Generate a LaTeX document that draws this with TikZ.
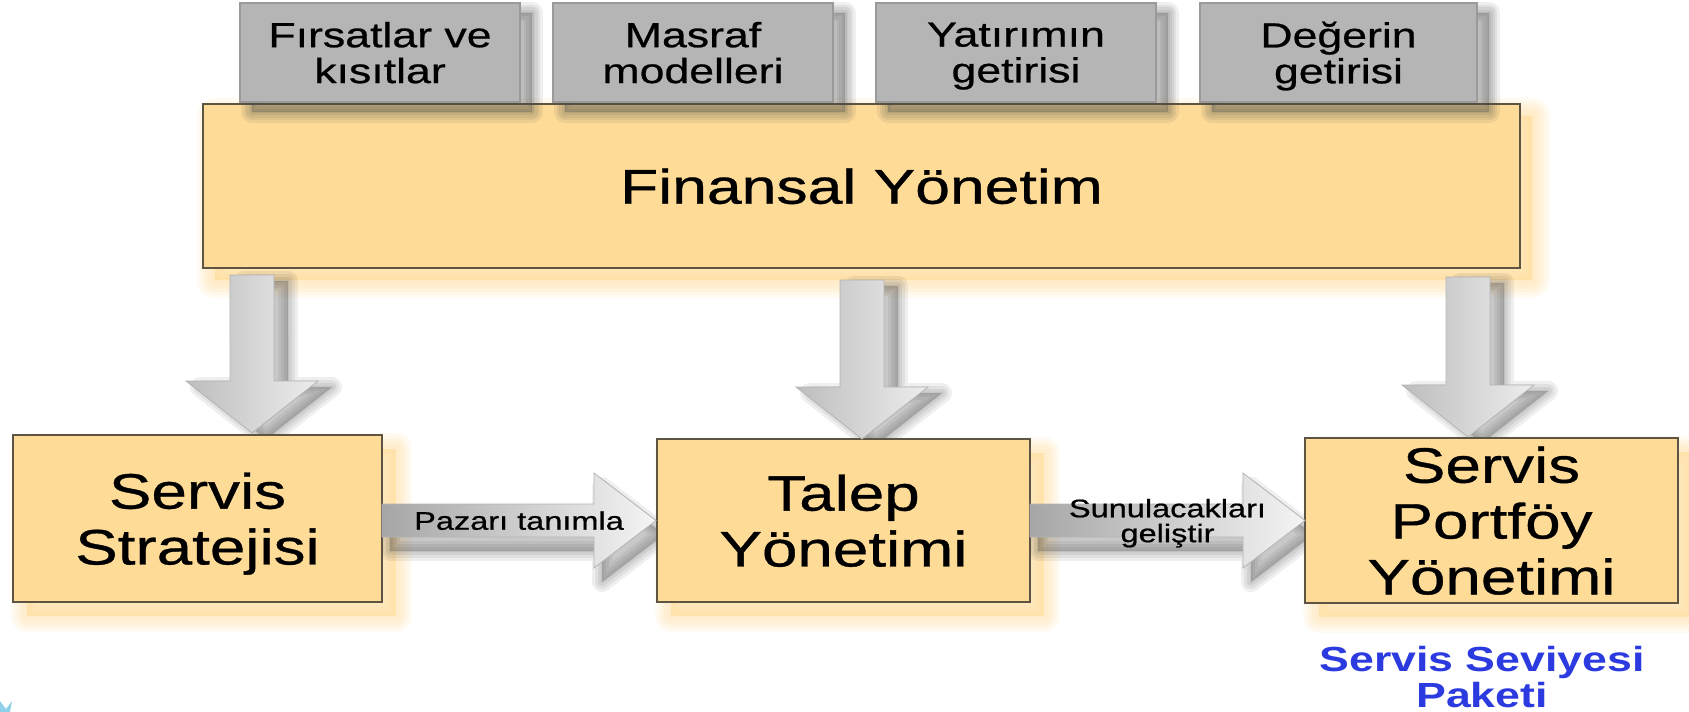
\documentclass[tikz,border=0pt]{standalone}
\usepackage{fontspec}
\setmainfont{Liberation Sans}[FakeStretch=1.28]
\newfontfamily\heavyfont{Liberation Sans}[FakeStretch=1.28, FakeBold=0.7]
\usetikzlibrary{calc}

\definecolor{boxfill}{HTML}{FEDC98}
\definecolor{boxedge}{HTML}{5E5443}
\definecolor{glowcol}{HTML}{FFD07A}
\definecolor{tabfill}{HTML}{B5B5B5}
\definecolor{tabedge}{HTML}{9A9A9A}
\definecolor{shadowcol}{HTML}{4A4A4A}
\definecolor{arrowdark}{HTML}{A6A6A6}
\definecolor{arrowlight}{HTML}{F4F4F4}
\definecolor{downdark}{HTML}{BDBDBD}
\definecolor{downlight}{HTML}{EDEDED}
\definecolor{arrowedge}{HTML}{B4B4B4}
\definecolor{slablue}{HTML}{2B3BE0}
\definecolor{cornerblue}{HTML}{8FD0E8}

\pgfdeclarelayer{glowlayer}
\pgfdeclarelayer{baselayer}
\pgfdeclarelayer{shadowlayer}
\pgfsetlayers{glowlayer,baselayer,shadowlayer,main}

% soft shadow: colour, dx, dy, stroke widths, core opacity, path
\newcommand\softshadow[6]{%
  \begin{scope}[transform canvas={shift={(#2,#3)}}]
    \foreach \w in {#4}{\draw[draw=#1, draw opacity=0.09, line width=\w, line join=round] #6;}
    \fill[#1, fill opacity=#5] #6;
  \end{scope}}

% block arrow pointing down: start coordinate, tip coordinate
\newcommand\downblock[2]{($(#1)+(-22,0)$) -- ($(#2)+(-22,-52)$) -- ($(#2)+(-66,-52)$) -- (#2) -- ($(#2)+(66,-52)$) -- ($(#2)+(22,-52)$) -- ($(#1)+(22,0)$) -- cycle}
% block arrow pointing right: start coordinate, tip coordinate
\newcommand\rightblock[2]{($(#1)+(0,-16.5)$) -- ($(#2)+(-62,-16.5)$) -- ($(#2)+(-62,-47.5)$) -- (#2) -- ($(#2)+(-62,47.5)$) -- ($(#2)+(-62,16.5)$) -- ($(#1)+(0,16.5)$) -- cycle}

\begin{document}
\begin{tikzpicture}[x=1bp, y=-1bp,
  mainbox/.style={draw=boxedge, line width=1.6bp, fill=boxfill, inner sep=0pt, outer sep=0pt, align=center, text depth=0bp},
  boxtext/.style={font=\heavyfont\fontsize{50}{56}\selectfont},
  tab/.style={draw=tabedge, line width=1.5bp, fill=tabfill, minimum width=280bp, minimum height=99bp,
    inner sep=0pt, outer sep=0pt, align=center, text depth=0bp, font=\heavyfont\fontsize{35}{36}\selectfont},
  arrowtext/.style={font=\heavyfont\fontsize{25.5}{25}\selectfont, inner sep=0pt, align=center, text depth=0bp},
  downarrow/.style={left color=downdark, right color=downlight, draw=arrowedge, line width=0.8bp, line join=miter},
  rightarrow/.style={left color=arrowdark, right color=arrowlight, draw=arrowedge, line width=0.8bp, line join=miter}]
\useasboundingbox (0,0) rectangle (1689,712);

% financial management bar
\begin{pgfonlayer}{baselayer}
\node[mainbox, minimum width=1317bp, minimum height=164bp, font=\heavyfont\fontsize{49}{58}\selectfont] (fin) at (861.5,186) {Finansal Yönetim};
\end{pgfonlayer}
\begin{pgfonlayer}{glowlayer}
\softshadow{glowcol}{12}{12}{36pt,30pt,24pt,18pt,12pt,6pt}{0.4}{(fin.north west) rectangle (fin.south east)}
\end{pgfonlayer}

% grey tabs on top
\node[tab] (g1) at (380,52.5) {Fırsatlar ve\\kısıtlar};
\node[tab] (g2) at (693,52.5) {Masraf\\modelleri};
\node[tab] (g3) at (1016,52.5) {Yatırımın\\getirisi};
\node[tab, minimum width=277bp] (g4) at (1338.5,52.5) {Değerin\\getirisi};

% process boxes
\node[mainbox, boxtext, minimum width=369bp, minimum height=167bp] (s1) at (197.5,518.5) {Servis\\Stratejisi};
\node[mainbox, boxtext, minimum width=373bp, minimum height=163bp] (s2) at (843.5,520.5) {Talep\\Yönetimi};
\node[mainbox, boxtext, minimum width=373bp, minimum height=165bp] (s3) at (1491.5,520.5) {Servis\\Portföy\\Yönetimi};

% arrow end points
\coordinate (a1s) at ($(fin.south west)+(49,7)$);
\coordinate (a1t) at ($(s1.north)+(54.5,-2)$);
\coordinate (a2s) at ($(fin.south)+(0.5,12)$);
\coordinate (a2t) at ($(s2.north)+(18.5,0)$);
\coordinate (a3s) at ($(fin.south east)+(-52,9)$);
\coordinate (a3t) at ($(s3.north)+(-23.5,-1)$);
\coordinate (h1s) at (s1.east |- s2.east);
\coordinate (h1t) at ($(s2.west)+(-1,0)$);
\coordinate (h2s) at (s2.east);
\coordinate (h2t) at (s3.west);

\begin{pgfonlayer}{shadowlayer}
  \foreach \g in {g1,g2,g3,g4}{
    \softshadow{shadowcol}{12}{10}{22pt,17pt,12pt,7pt,3pt}{0.3}{(\g.north west) rectangle (\g.south east)}
  }
  \foreach \s in {s1,s2,s3}{
    \softshadow{glowcol}{14}{14}{32pt,26pt,20pt,14pt,8pt}{0.4}{(\s.north west) rectangle (\s.south east)}
  }
  \softshadow{shadowcol}{14}{6}{20pt,14pt,8pt,3pt}{0.3}{\downblock{a1s}{a1t}}
  \softshadow{shadowcol}{14}{6}{20pt,14pt,8pt,3pt}{0.3}{\downblock{a2s}{a2t}}
  \softshadow{shadowcol}{14}{6}{20pt,14pt,8pt,3pt}{0.3}{\downblock{a3s}{a3t}}
  \softshadow{shadowcol}{8}{14}{20pt,14pt,8pt,3pt}{0.3}{\rightblock{h1s}{h1t}}
  \softshadow{shadowcol}{8}{14}{20pt,14pt,8pt,3pt}{0.3}{\rightblock{h2s}{h2t}}
\end{pgfonlayer}

% block arrows
\shadedraw[downarrow] \downblock{a1s}{a1t};
\shadedraw[downarrow] \downblock{a2s}{a2t};
\shadedraw[downarrow] \downblock{a3s}{a3t};
\shadedraw[rightarrow] \rightblock{h1s}{h1t};
\shadedraw[rightarrow] \rightblock{h2s}{h2t};

\node[arrowtext] (t1) at ($(h1s)!0.5!(h1t)$) {Pazarı tanımla};
\node[arrowtext] (t2) at ($(h2s)!0.5!(h2t)$) {Sunulacakları\\geliştir};

% service level package caption
\node[font=\bfseries\fontsize{35}{36}\selectfont, text=slablue, align=center, inner sep=0pt, text depth=0bp] (sla) at (1482,677) {Servis Seviyesi\\Paketi};

% corner ornament
\fill[cornerblue] (0,712) -- (0,701) -- (6,709) -- (12,701) -- (10,712) -- cycle;
\end{tikzpicture}
\end{document}
